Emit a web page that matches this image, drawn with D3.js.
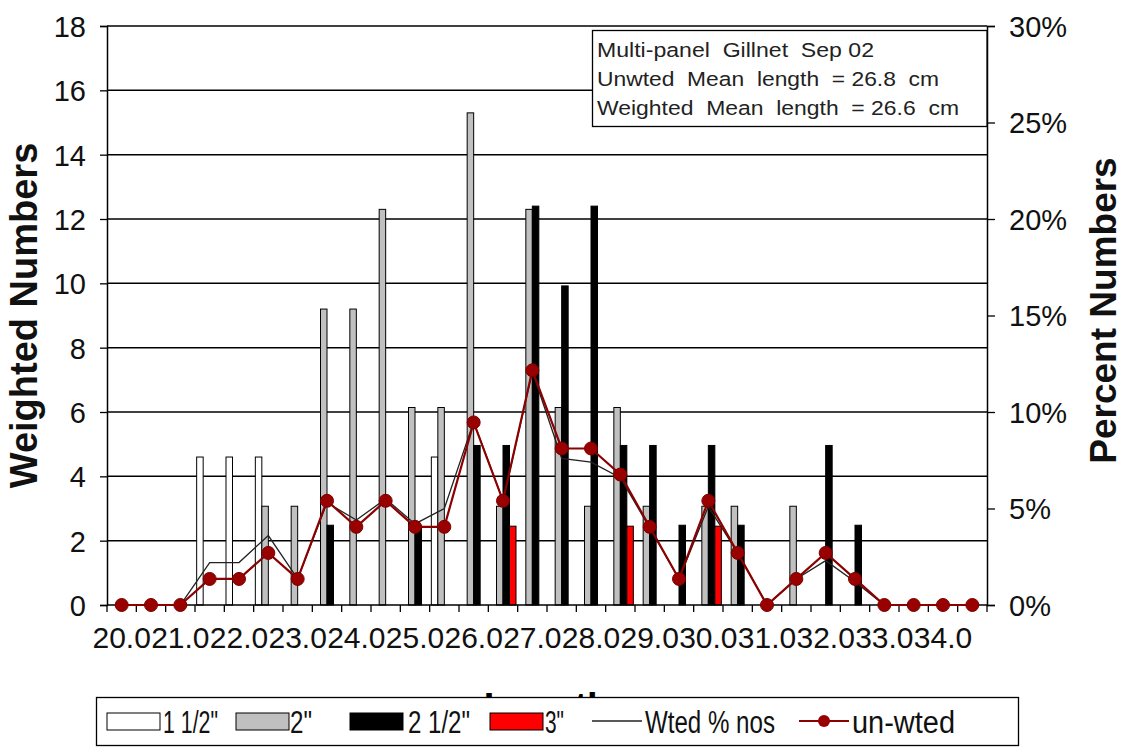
<!DOCTYPE html>
<html><head><meta charset="utf-8">
<script src="https://cdn.jsdelivr.net/npm/d3@7"></script>
<style>html,body{margin:0;padding:0;background:#fff}svg{display:block}text{font-family:"Liberation Sans",Arial,sans-serif;white-space:pre}</style>
</head><body>
<script>
// ---- data ----
const categories = ["20.0","20.5","21.0","21.5","22.0","22.5","23.0","23.5","24.0","24.5","25.0","25.5","26.0","26.5","27.0","27.5","28.0","28.5","29.0","29.5","30.0","30.5","31.0","31.5","32.0","32.5","33.0","33.5","34.0","34.5"];
const tickLabels = ["20.0","21.0","22.0","23.0","24.0","25.0","26.0","27.0","28.0","29.0","30.0","31.0","32.0","33.0","34.0"];
const seriesNames = ["1 1/2\"","2\"","2 1/2\"","3\""];
const mesh15 = [0,0,0,4.6,4.6,4.6,0,0,0,0,0,4.6,0,0,0,0,0,0,0,0,0,0,0,0,0,0,0,0,0,0];
const mesh20 = [0,0,0,0,0,3.07,3.07,9.2,9.2,12.3,6.14,6.14,15.3,3.07,12.3,6.14,3.07,6.14,3.07,0,3.07,3.07,0,3.07,0,0,0,0,0,0];
const mesh25 = [0,0,0,0,0,0,0,2.48,0,0,2.48,0,4.96,4.96,12.4,9.92,12.4,4.96,4.96,2.48,4.96,2.48,0,0,4.96,2.48,0,0,0,0];
const mesh30 = [0,0,0,0,0,0,0,0,0,0,0,0,0,2.45,0,0,0,2.45,0,0,2.45,0,0,0,0,0,0,0,0,0];
const wtedPct = [0,0,0,2.2,2.2,3.6,1.35,5.3,4.4,5.5,4.2,5.0,9.5,5.4,12.1,7.6,7.4,6.6,4.0,1.35,5.1,2.7,0,1.35,2.3,1.2,0,0,0,0];
const unwtedPct = [0,0,0,1.35,1.35,2.7,1.35,5.4,4.05,5.4,4.05,4.05,9.46,5.4,12.16,8.11,8.11,6.76,4.05,1.35,5.4,2.7,0,1.35,2.7,1.35,0,0,0,0];
const leftTicks = [0,2,4,6,8,10,12,14,16,18];
const rightTicks = [0,5,10,15,20,25,30];
const infoLines = ["Multi-panel  Gillnet  Sep 02","Unwted  Mean  length  = 26.8  cm","Weighted  Mean  length  = 26.6  cm"];
const legendLabels = ["1 1/2\"","2\"","2 1/2\"","3\"","Wted % nos","un-wted"];

// ---- layout ----
const W = 1124, H = 750;
const L = 107, R = 987, T = 26, B = 605;
const seriesData = [mesh15, mesh20, mesh25, mesh30];
const seriesFill = ["#ffffff","#c0c0c0","#000000","#ff0000"];

const svg = d3.select("body").append("svg").attr("width", W).attr("height", H);

const x = d3.scaleBand().domain(categories).range([L, R]).paddingInner(0).paddingOuter(0);
const xs = d3.scaleBand().domain(seriesNames).range([0, x.bandwidth()]).paddingInner(0).paddingOuter(0.256);
const y = d3.scaleLinear().domain([0, 18]).range([B, T]);
const y2 = d3.scaleLinear().domain([0, 30]).range([B, T]);

// gridlines
svg.append("g").selectAll("line").data(leftTicks.filter(d => d > 0)).join("line")
  .attr("x1", L).attr("x2", R).attr("y1", d => y(d)).attr("y2", d => y(d))
  .attr("stroke", "#000").attr("stroke-width", 1.5);

// bars
seriesData.forEach((vals, si) => {
  svg.append("g").selectAll("rect").data(vals.map((v, i) => ({c: categories[i], v})).filter(d => d.v > 0)).join("rect")
    .attr("x", d => x(d.c) + xs(seriesNames[si]))
    .attr("width", xs.bandwidth())
    .attr("y", d => y(d.v))
    .attr("height", d => B - y(d.v))
    .attr("fill", seriesFill[si]).attr("stroke", "#000").attr("stroke-width", 1);
});

// axes
const fs = 29;
const gl = svg.append("g").attr("transform", `translate(${L},0)`)
  .call(d3.axisLeft(y).tickValues(leftTicks).tickSize(7).tickFormat(d3.format("d")));
const gr = svg.append("g").attr("transform", `translate(${R},0)`)
  .call(d3.axisRight(y2).tickValues(rightTicks).tickSize(8).tickFormat(d => d + "%"));
const gx = svg.append("g").attr("transform", `translate(0,${B})`)
  .call(d3.axisBottom(x).tickSize(0).tickFormat(d => tickLabels.includes(d) ? d : ""));
[gl, gr, gx].forEach(g => {
  g.select(".domain").attr("stroke", "#000").attr("stroke-width", 1.5);
  g.selectAll(".tick line").attr("stroke", "#000").attr("stroke-width", 1.3);
  g.selectAll("text").attr("font-family", "Liberation Sans, Arial, sans-serif").attr("fill", "#111");
});
gl.selectAll("text").attr("font-size", fs).attr("x", -21).attr("dy", "0.36em");
gr.selectAll("text").attr("font-size", fs).attr("x", 22).attr("dy", "0.36em");
gx.selectAll("text").attr("font-size", 30).attr("y", 22).attr("dy", "0.71em");
gx.select(".domain").attr("d", `M${L},0H${R}`);
// category boundary ticks
svg.append("g").selectAll("line").data(categories.concat(["end"])).join("line")
  .attr("x1", (d, i) => L + i * x.step()).attr("x2", (d, i) => L + i * x.step())
  .attr("y1", B).attr("y2", B + 7).attr("stroke", "#000").attr("stroke-width", 1.3);

// lines
const cx = d => x(d) + x.bandwidth() / 2;
const lineW = d3.line().x((d, i) => cx(categories[i])).y(d => y2(d));
svg.append("path").attr("d", lineW(wtedPct)).attr("fill", "none").attr("stroke", "#222").attr("stroke-width", 1.3);
svg.append("path").attr("d", lineW(unwtedPct)).attr("fill", "none").attr("stroke", "#8b0000").attr("stroke-width", 2.2);
svg.append("g").selectAll("circle").data(unwtedPct).join("circle")
  .attr("cx", (d, i) => cx(categories[i])).attr("cy", d => y2(d)).attr("r", 6.5)
  .attr("fill", "#990000").attr("stroke", "#7a0000").attr("stroke-width", 1);

// axis titles
svg.append("text").attr("transform", `translate(${(L+R)/2},720)`).attr("text-anchor", "middle")
  .attr("font-size", 38).attr("font-weight", "bold").text("Length");
svg.append("text").attr("transform", `translate(37,${(T+B)/2}) rotate(-90)`).attr("text-anchor", "middle")
  .attr("font-size", 38).attr("font-weight", "bold").attr("fill", "#111").text("Weighted Numbers");
svg.append("text").attr("transform", `translate(1116,${(T+B)/2 - 5}) rotate(-90)`).attr("text-anchor", "middle")
  .attr("font-size", 37).attr("font-weight", "bold").attr("fill", "#111").text("Percent Numbers");

// info box
svg.append("rect").attr("x", 592.5).attr("y", 30.5).attr("width", R - 592.5).attr("height", 96)
  .attr("fill", "#fff").attr("stroke", "#000").attr("stroke-width", 1.3);
const infoW = [277, 342, 362];
infoLines.forEach((t, i) => {
  svg.append("text").attr("x", 597).attr("y", 57 + i * 29).attr("font-size", 20.5).attr("fill", "#222")
    .attr("textLength", infoW[i]).attr("lengthAdjust", "spacingAndGlyphs").text(t);
});

// legend
const lg = svg.append("g");
lg.append("rect").attr("x", 96.5).attr("y", 697.5).attr("width", 922).attr("height", 48)
  .attr("fill", "#fff").attr("stroke", "#000").attr("stroke-width", 1.3);
const swX = [107, 236, 350, 490];
const txX = [163, 290, 408, 545, 645, 852];
const txW = [55, 22, 62, 19, 130, 103];
const ly = 721;
swX.forEach((sx, i) => {
  lg.append("rect").attr("x", sx).attr("y", ly - 8).attr("width", 53).attr("height", 17)
    .attr("fill", seriesFill[i]).attr("stroke", "#000").attr("stroke-width", 1);
});
lg.append("line").attr("x1", 592).attr("x2", 642).attr("y1", ly).attr("y2", ly).attr("stroke", "#222").attr("stroke-width", 1.3);
lg.append("line").attr("x1", 799).attr("x2", 849).attr("y1", ly).attr("y2", ly).attr("stroke", "#8b0000").attr("stroke-width", 2.2);
lg.append("circle").attr("cx", 824).attr("cy", ly).attr("r", 6).attr("fill", "#990000");
legendLabels.forEach((t, i) => {
  lg.append("text").attr("x", txX[i]).attr("y", ly + 12).attr("font-size", 31).attr("fill", "#111")
    .attr("textLength", txW[i]).attr("lengthAdjust", "spacingAndGlyphs").text(t);
});
</script>
</body></html>
